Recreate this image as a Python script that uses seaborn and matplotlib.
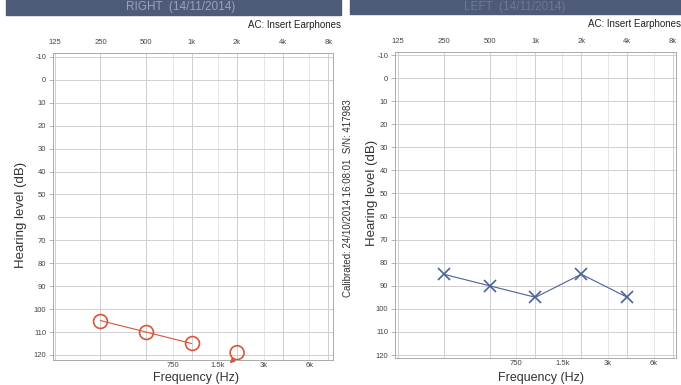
import matplotlib
matplotlib.use("Agg")
import matplotlib.pyplot as plt
import seaborn as sns
import pandas as pd
import numpy as np

sns.set_theme(style="white")
plt.rcParams['font.family'] = ['Liberation Sans', 'DejaVu Sans']

# Data
octave_freqs = [125, 250, 500, 1000, 2000, 4000, 8000]
octave_labels = ["125", "250", "500", "1k", "2k", "4k", "8k"]
mid_freqs = [750, 1500, 3000, 6000]
mid_labels = ["750", "1.5k", "3k", "6k"]
db_ticks = [-10, 0, 10, 20, 30, 40, 50, 60, 70, 80, 90, 100, 110, 120]

right_freq = [250, 500, 1000]
right_db = [105, 110, 115]
right_nr_freq = [2000]
right_nr_db = [119]

left_freq = [250, 500, 1000, 2000, 4000]
left_db = [85, 90, 95, 85, 95]

red = "#d9553a"
blue = "#4a6396"
grid_c = "#cfcfcf"

W, H = 681, 385
fig = plt.figure(figsize=(6.81, 3.85), dpi=100)


def px_axes(x0, y0, x1, y1):
    return [x0 / W, 1 - y1 / H, (x1 - x0) / W, (y1 - y0) / H]


def setup(ax, xlim, ylim, ylab_y):
    ax.set_xscale("log", base=2)
    ax.set_xlim(*xlim)
    ax.set_ylim(*ylim)
    ax.set_xticks(octave_freqs)
    ax.set_xticklabels(octave_labels)
    ax.set_xticks(mid_freqs, minor=True)
    ax.set_xticklabels(mid_labels, minor=True)
    ax.set_yticks(db_ticks)
    ax.set_yticklabels([str(v) for v in db_ticks])
    ax.tick_params(which="major", axis="x", top=False, bottom=False, length=0,
                   labeltop=True, labelbottom=False, labelsize=5.5, pad=5, colors="#444444")
    ax.tick_params(which="minor", axis="x", top=False, bottom=False, length=0,
                   labeltop=False, labelbottom=True, labelsize=5.5, pad=1.5, colors="#444444")
    ax.tick_params(axis="y", left=True, length=3, width=0.5, color="#999999",
                   labelsize=5.5, pad=2, colors="#444444")
    ax.grid(True, which="major", color=grid_c, lw=0.7)
    ax.grid(True, which="minor", axis="x", color="#e2e2e2", lw=0.6)
    for s in ax.spines.values():
        s.set_color("#aaaaaa")
        s.set_linewidth(0.7)
    ax.set_xlabel("Frequency (Hz)", fontsize=9, color="#333333")
    ax.set_ylabel("Hearing level (dB)", fontsize=9.5, color="#333333")
    ax.xaxis.set_label_coords(0.5, -0.058)
    ax.xaxis.label.set_va("center")
    ax.yaxis.label.set_va("center")
    ax.yaxis.set_label_coords(ylab_y[0], ylab_y[1])


# Right ear panel (left side)
ax1 = fig.add_axes(px_axes(53, 53, 333, 360))
dfr = pd.DataFrame({"freq": right_freq, "db": right_db})
sns.lineplot(data=dfr, x="freq", y="db", ax=ax1, color=red, lw=0.8,
             marker="o", markersize=10, markerfacecolor="none",
             markeredgecolor=red, markeredgewidth=1.2)
dfn = pd.DataFrame({"freq": right_nr_freq, "db": right_nr_db})
sns.scatterplot(data=dfn, x="freq", y="db", ax=ax1, s=100, facecolor="none",
                edgecolor=red, linewidth=1.2, marker="o")
for f, d in zip(right_nr_freq, right_nr_db):
    ax1.annotate("", xy=(f * 0.865, d + 5.5), xytext=(f * 0.975, d + 2.3),
                 arrowprops=dict(arrowstyle="-|>", color=red, lw=0.9,
                                 mutation_scale=7),
                 annotation_clip=False)
setup(ax1, (121.5, 8600), (122.2, -11.7), (-(53 - 21) / 280, 1 - (215 - 53) / 307))
ax1.xaxis.set_label_coords((196 - 53) / 280, -(378 - 360) / 307)

# Left ear panel (right side)
ax2 = fig.add_axes(px_axes(395, 52, 676, 358))
dfl = pd.DataFrame({"freq": left_freq, "db": left_db})
sns.lineplot(data=dfl, x="freq", y="db", ax=ax2, color=blue, lw=0.8,
             marker="x", markersize=9, markeredgecolor=blue, markeredgewidth=1.2)
setup(ax2, (120, 8350), (121.3, -11.3), (-(395 - 372) / 281, 1 - (193 - 52) / 306))
ax2.xaxis.set_label_coords((541 - 395) / 281, -(378 - 358) / 306)

# Header bands
band_c = "#4d5a78"
fig.patches.append(plt.Rectangle((6 / W, 1 - 15 / H), 335 / W, 15 / H,
                                 transform=fig.transFigure, color=band_c, zorder=0))
fig.patches.append(plt.Rectangle((350 / W, 1 - 14 / H), 331 / W, 14 / H,
                                 transform=fig.transFigure, color=band_c, zorder=0))
fig.text(181 / W, 1 - 7 / H, "RIGHT  (14/11/2014)", fontsize=8.5, color="#9aa3b8",
         ha="center", va="center")
fig.text(515 / W, 1 - 7 / H, "LEFT  (14/11/2014)", fontsize=8.5, color="#6f7894",
         ha="center", va="center")

fig.text(248 / W, 1 - 25 / H, "AC: Insert Earphones", fontsize=7, ha="left",
         va="center", color="#222222")
fig.text(588 / W, 1 - 24 / H, "AC: Insert Earphones", fontsize=7, ha="left",
         va="center", color="#222222")
fig.text(348 / W, 1 - 198 / H, "Calibrated: 24/10/2014 16:08:01  S/N: 417983",
         fontsize=7, rotation=90, ha="center", va="center", color="#333333")

fig.savefig("out.png", dpi=100)
